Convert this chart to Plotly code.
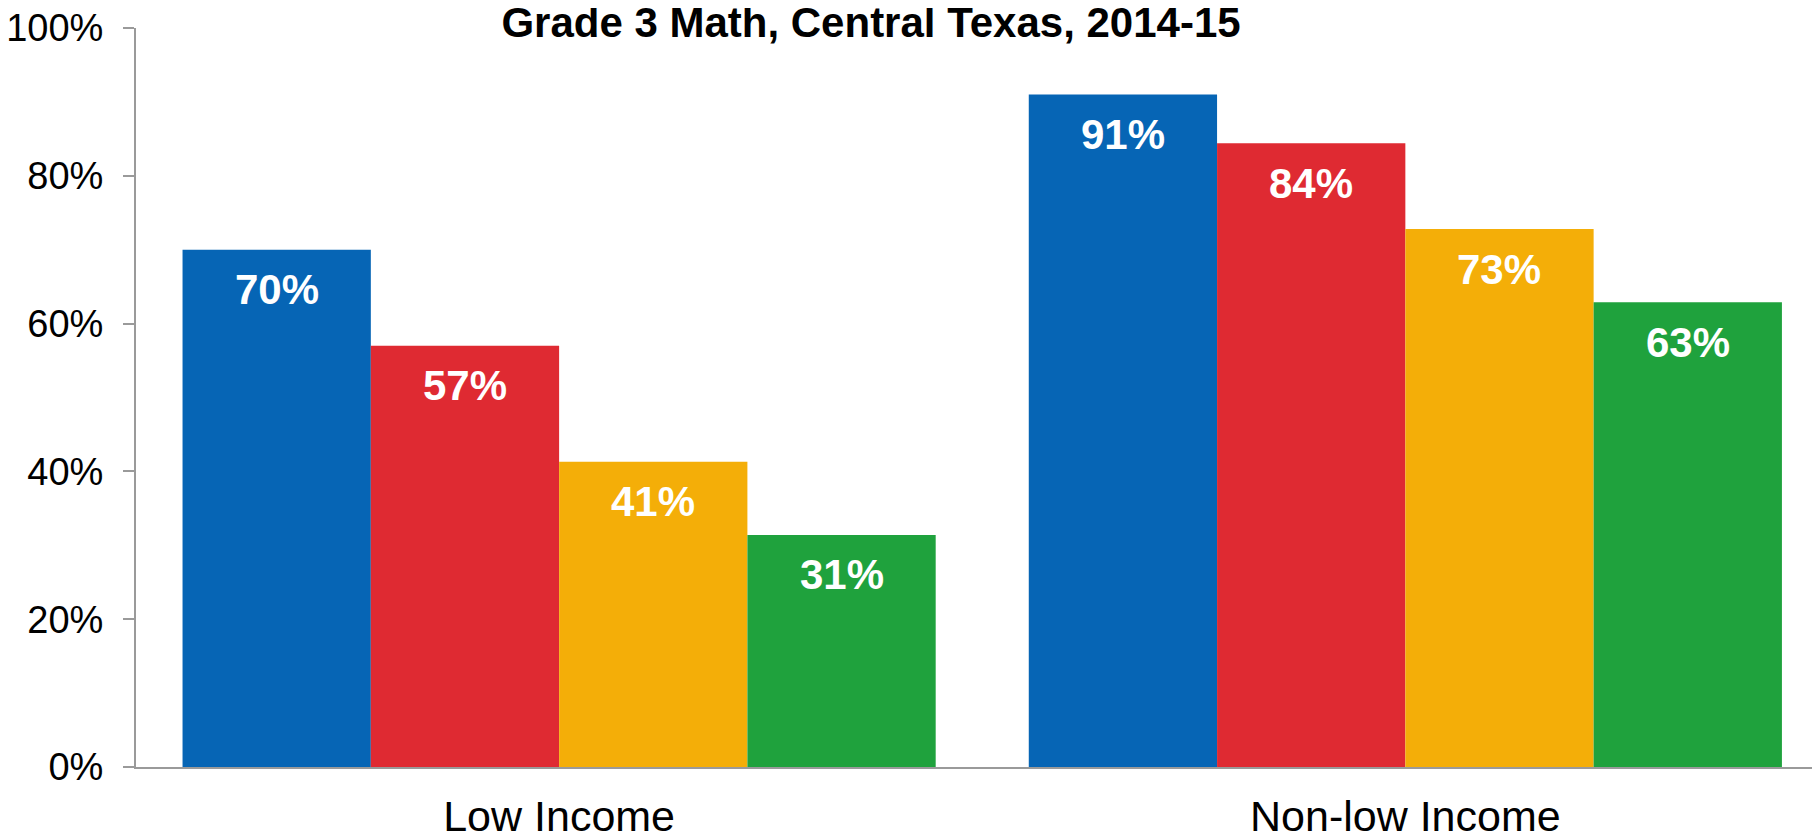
import plotly.graph_objects as go

categories = ["Low Income", "Non-low Income"]
series_names = ["Series 1", "Series 2", "Series 3", "Series 4"]
series_values = [
    [70, 91],
    [57, 84.4],
    [41.3, 72.8],
    [31.4, 62.9],
]
series_colors = ["#0665B5", "#DF2A32", "#F4AE08", "#1FA23D"]
y_ticks = [0, 20, 40, 60, 80, 100]
y_tick_labels = ["0%", "20%", "40%", "60%", "80%", "100%"]
title_text = "Grade 3 Math, Central Texas, 2014-15"

FONT = "Liberation Sans, Arial, sans-serif"
bargap = 0.11
n = len(series_values)

# the page body keeps an 8px margin, so the figure is sized to fit inside it
W, H = 1812, 827

fig = go.Figure()
for name, vals, col in zip(series_names, series_values, series_colors):
    fig.add_trace(go.Bar(
        name=name, x=categories, y=vals,
        marker=dict(color=col, line=dict(width=0)),
        hoverinfo="y",
    ))

# value labels inside the bars near their tops
bw = (1 - bargap) / n
annotations = []
for i, vals in enumerate(series_values):
    for j, v in enumerate(vals):
        annotations.append(dict(
            x=j + (i - (n - 1) / 2) * bw, y=v, xref="x", yref="y",
            text=f"{v:.0f}%", showarrow=False, yanchor="middle",
            yshift=-40,
            font=dict(family=FONT, size=42, color="white", weight="bold"),
        ))

fig.update_layout(
    width=W, height=H,
    margin=dict(l=128, r=0, t=20, b=68, autoexpand=False),
    paper_bgcolor="white", plot_bgcolor="white",
    barmode="group", bargap=bargap, bargroupgap=0,
    showlegend=False,
    title=dict(text=f"<b>{title_text}</b>", x=863 / W, xref="container",
               xanchor="center", y=1, yref="container", yanchor="top",
               pad=dict(t=0), automargin=False,
               font=dict(family=FONT, size=42, color="black")),
    annotations=annotations,
    xaxis=dict(range=[-0.5, 1.49], showline=True, linecolor="#9A9A9A", linewidth=2,
               ticks="", showgrid=False, zeroline=False, automargin=False,
               tickfont=dict(family=FONT, size=43, color="black"),
               ticklabelstandoff=10, ticklabeloverflow="allow"),
    yaxis=dict(range=[0, 100], tickvals=y_ticks, ticktext=y_tick_labels,
               showline=True, linecolor="#9A9A9A", linewidth=2,
               ticks="outside", ticklen=11, tickwidth=2, tickcolor="#9A9A9A",
               showgrid=False, zeroline=False, automargin=False,
               tickfont=dict(family=FONT, size=38, color="black"),
               ticklabelstandoff=12, ticklabeloverflow="allow"),
)

fig.write_html("out.html")
